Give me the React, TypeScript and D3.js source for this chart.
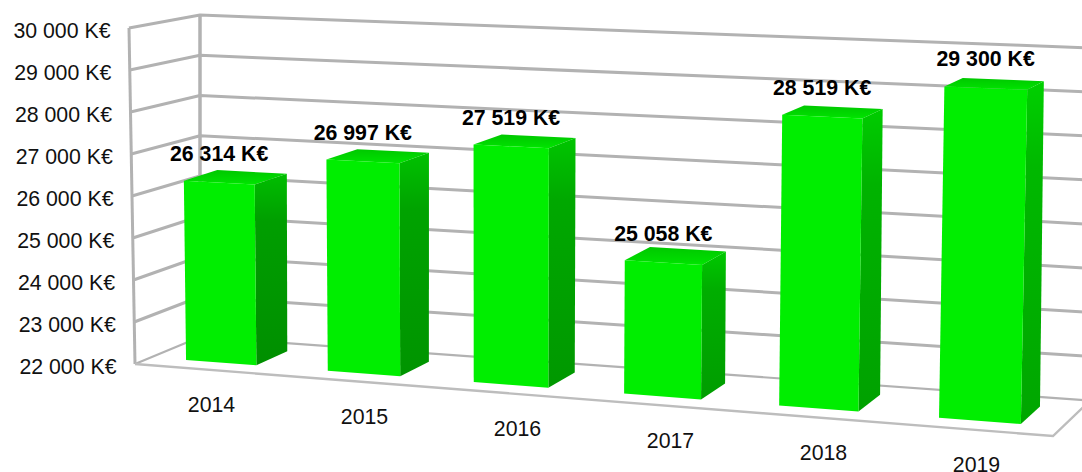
import React from "react";
import * as d3 from "d3";

const years = ["2014", "2015", "2016", "2017", "2018", "2019"];
const revenue = [26314, 26997, 27519, 25058, 28519, 29300];
const valueLabels = ["26 314 K€", "26 997 K€", "27 519 K€", "25 058 K€", "28 519 K€", "29 300 K€"];
const ticks = [22000, 23000, 24000, 25000, 26000, 27000, 28000, 29000, 30000];
const tickLabels = ["22 000 K€", "23 000 K€", "24 000 K€", "25 000 K€", "26 000 K€", "27 000 K€", "28 000 K€", "29 000 K€", "30 000 K€"];

type P = [number, number];
const lerp = (a: P, b: P, t: number): P => [a[0] + (b[0] - a[0]) * t, a[1] + (b[1] - a[1]) * t];

// corners of the projected chart box: front/back, left/right, floor/top
const FLB: P = [135, 364], FRB: P = [1053, 436], BLB: P = [200, 337], BRB: P = [1090, 400.6];
const FLT: P = [129, 28], FRT: P = [1062, 62], BLT: P = [200, 15], BRT: P = [1093, 48];
const K = 0.095;

const vScale = d3.scaleLinear().domain([22000, 30000]).range([0, 1]);
const band = d3.scaleBand<string>().domain(years).range([0, 1]).paddingInner(0.5).paddingOuter(0.25);
const warp = (t: number) => t / (1 + K * (1 - t));

function project(t: number, v: number, w: number): P {
  const u = warp(t);
  const floor = lerp(lerp(FLB, FRB, u), lerp(BLB, BRB, u), w);
  const top = lerp(lerp(FLT, FRT, u), lerp(BLT, BRT, u), w);
  return lerp(floor, top, v);
}
const line = d3.line<P>();
const poly = (pts: P[]) => line(pts)! + "Z";

const W_FRONT = 0.25, W_BACK = 0.75, W_TOP_FRONT = 0.21;
// front top corner: horizontal place from the bar's front plane, height slightly lowered by the soft top edge
const frontTop = (t: number, v: number): P => [project(t, v, W_FRONT)[0], project(t, v, W_TOP_FRONT)[1]];
const GRID = "#b2b2b2";
const FONT = "'Liberation Sans', Arial, sans-serif";
const FS = 21.3;
const sideTop = d3.scaleLinear<string>().domain([0, 5]).range(["#00be00", "#00d000"]);
const sideMid = d3.scaleLinear<string>().domain([0, 5]).range(["#009e00", "#00b800"]);
const sideEnd = d3.scaleLinear<string>().domain([0, 5]).range(["#008f00", "#00a600"]);

export default function App() {
  return (
    <svg width={1082} height={472} style={{ position: "absolute", left: 0, top: 0, background: "#fff" }}>
      <defs>
        <filter id="soft" x="-5%" y="-5%" width="110%" height="110%">
          <feGaussianBlur stdDeviation="0.6" />
        </filter>
        <linearGradient id="topFace" x1="0" y1="0" x2="0" y2="1">
          <stop offset="0" stopColor="#00c800" />
          <stop offset="0.75" stopColor="#00dc00" />
          <stop offset="1" stopColor="#00e800" />
        </linearGradient>
        {years.map((y, i) => (
          <linearGradient key={y} id={`side${i}`} x1="0" y1="0" x2="0" y2="1">
            <stop offset="0" stopColor={sideTop(i)} />
            <stop offset="0.25" stopColor={sideMid(i)} />
            <stop offset="1" stopColor={sideEnd(i)} />
          </linearGradient>
        ))}
      </defs>
      <g filter="url(#soft)">
        {ticks.map((tk) => {
          const v = vScale(tk);
          const thin = tk === 22000;
          return (
            <path
              key={tk}
              d={line([project(0, v, 0), project(0, v, 1), project(1, v, 1)])!}
              fill="none"
              stroke={GRID}
              strokeWidth={thin ? 2.2 : 3}
              strokeLinejoin="round"
            />
          );
        })}
        <path d={line([project(0, 0, 0), project(0, 1, 0)])!} stroke={GRID} strokeWidth={3} fill="none" />
        <path d={line([project(0, 0, 1), project(0, 1, 1)])!} stroke={GRID} strokeWidth={3.5} fill="none" />
        <path d={line([project(0, 0, 0), project(1, 0, 0), project(1, 0, 1)])!} stroke="#bdbdbd" strokeWidth={2.4} fill="none" />
        {years.map((y, i) => {
          const t0 = band(y)!;
          const t1 = t0 + band.bandwidth();
          const v = vScale(revenue[i]);
          const fbl = project(t0, 0, W_FRONT), fbr = project(t1, 0, W_FRONT), bbr = project(t1, 0, W_BACK);
          const ftl = frontTop(t0, v), ftr = frontTop(t1, v), btr = project(t1, v, W_BACK), btl = project(t0, v, W_BACK);
          return (
            <g key={y}>
              <path d={poly([ftl, btl, btr, ftr])} fill="url(#topFace)" />
              <path d={poly([ftr, btr, bbr, fbr])} fill={`url(#side${i})`} />
              <path d={poly([fbl, ftl, ftr, fbr])} fill="#00ee00" />
            </g>
          );
        })}
      </g>
      <g fontFamily={FONT} fill="#111" fontSize={FS}>
        {ticks.map((tk, i) => {
          const p = project(0, vScale(tk), 0);
          return (
            <text key={tk} x={p[0] - 18.5} y={p[1] + 10} textAnchor="end">
              {tickLabels[i]}
            </text>
          );
        })}
        {years.map((y, i) => {
          const t = (i + 0.5) / years.length;
          const p = lerp(FLB, FRB, t);
          return (
            <text key={y} x={p[0]} y={p[1] + 42} textAnchor="middle">
              {y}
            </text>
          );
        })}
        {years.map((y, i) => {
          const p = project(band(y)! + band.bandwidth() / 2, vScale(revenue[i]), W_FRONT);
          return (
            <text key={y} x={p[0]} y={p[1] - 21} fontWeight="bold" textAnchor="middle" fill="#000">
              {valueLabels[i]}
            </text>
          );
        })}
      </g>
    </svg>
  );
}
